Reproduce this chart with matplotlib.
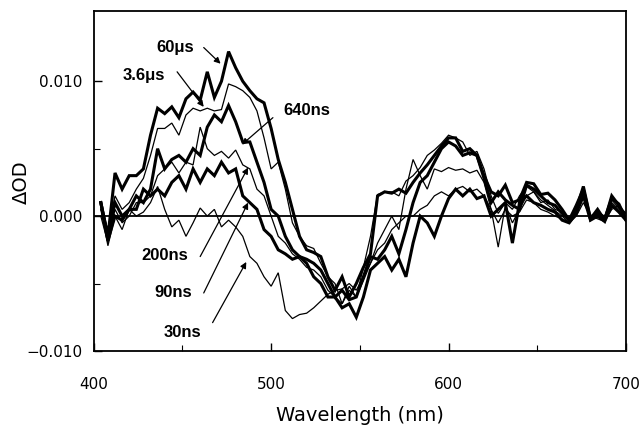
import numpy as np
import matplotlib
matplotlib.use("Agg")
import matplotlib.pyplot as plt

# wavelengths (nm)
wavelength = list(range(404, 701, 4))

# Delta OD values (x 1e-3)
od_60us = [1.0, -1.5, 3.2, 2.0, 3.0, 3.0, 3.5, 6.0, 8.0, 7.6, 8.1, 7.3, 8.7, 9.2, 8.6,
           10.7, 8.8, 10.0, 12.2, 11.0, 10.0, 9.3, 8.7, 8.4, 6.5, 4.2, 2.5, 0.5, -1.5, -2.5,
           -2.7, -3.0, -4.5, -5.5, -4.5, -6.0, -5.0, -3.8, -2.8, 1.5, 1.8, 1.7, 2.0, 1.7, 2.5,
           3.2, 3.8, 4.5, 5.2, 5.8, 5.8, 4.8, 5.0, 4.5, 3.0, 1.8, 1.5, 2.3, 1.0, 1.2,
           2.5, 2.4, 1.6, 1.7, 1.2, 0.5, -0.3, 0.8, 2.0, -0.2, 0.5, -0.3, 1.5, 0.8, -0.3]
od_3_6us = [0.5, -1.0, 1.5, 0.5, 1.0, 2.0, 2.8, 4.5, 6.5, 6.5, 6.9, 6.0, 7.5, 8.0, 7.8,
            8.0, 7.8, 7.9, 9.8, 9.6, 9.3, 8.8, 7.8, 5.8, 3.5, 4.0, 2.0, -0.5, -1.5, -2.2,
            -2.4, -3.5, -4.5, -5.0, -6.5, -5.2, -6.0, -3.8, -1.5, 1.6, 1.8, 1.8, 1.5, 2.6, 3.0,
            3.6, 4.5, 4.9, 5.4, 6.0, 5.8, 5.5, 4.5, 4.8, 3.5, 1.5, 0.2, 1.0, 0.5, 1.5,
            2.2, 1.8, 1.0, 1.2, 0.5, 0.3, -0.2, 0.5, 1.8, 0.0, 0.3, 0.0, 1.2, 0.6, 0.2]
od_640ns = [1.0, -1.5, 1.0, 0.0, 0.5, 1.5, 1.0, 2.0, 5.0, 3.5, 4.2, 4.5, 4.0, 5.0, 4.5,
            6.6, 7.5, 7.0, 8.2, 7.0, 5.5, 5.5, 4.0, 2.5, 0.5, 0.0, -1.5, -2.5, -3.0, -3.2,
            -3.5, -4.0, -5.0, -6.0, -5.5, -6.2, -6.0, -4.5, -3.0, -3.2, -2.5, -1.5, -2.8, -1.0, 1.0,
            2.5, 3.0, 4.0, 5.0, 5.5, 5.2, 4.5, 4.7, 4.5, 2.8, 1.0, 1.8, 1.2, 0.8, 0.5,
            2.3, 2.0, 1.5, 1.0, 0.8, 0.2, -0.3, 0.5, 2.2, -0.2, 0.2, -0.2, 1.3, 0.9, -0.2]
od_200ns = [0.0, -2.0, 0.5, -0.5, 0.0, 1.0, 1.0, 1.5, 3.0, 3.5, 4.0, 3.2, 4.0, 3.8, 6.6,
            5.0, 4.5, 4.8, 4.3, 4.9, 3.8, 3.5, 2.0, 1.5, 0.0, -1.5, -2.0, -2.8, -3.2, -3.8,
            -4.0, -4.5, -5.5, -6.0, -6.5, -5.5, -6.0, -4.8, -3.5, -2.0, -1.0, 0.0, -1.0, 2.0, 4.2,
            3.0, 2.0, 3.5, 3.3, 3.6, 3.4, 3.5, 3.2, 3.4, 2.5, 0.5, -2.3, 0.8, -0.5, 0.5,
            1.5, 1.8, 1.2, 0.8, 0.4, 0.0, -0.5, 0.3, 1.5, 0.0, 0.3, -0.3, 1.0, 0.5, 0.0]
od_90ns = [1.0, -1.8, 0.0, -0.3, 0.5, 0.5, 2.0, 1.5, 2.0, 1.5, 2.5, 3.0, 2.0, 3.5, 2.5,
           3.5, 3.0, 4.0, 3.2, 3.5, 1.5, 1.0, 0.5, -1.0, -1.5, -2.5, -2.8, -3.2, -3.0, -3.5,
           -4.5, -5.0, -6.0, -6.0, -6.8, -6.5, -7.5, -6.0, -4.0, -3.5, -3.0, -4.0, -3.2, -4.5, -2.0,
           0.0, -0.5, -1.5, 0.0, 1.3, 2.0, 1.5, 2.0, 1.3, 1.5, 0.0, 0.5, 1.0, -2.0, 1.0,
           1.5, 1.0, 0.8, 0.5, 0.3, -0.3, -0.5, 0.2, 1.5, -0.3, 0.0, -0.4, 0.8, 0.3, -0.3]
od_30ns = [0.5, -2.2, 0.0, -1.0, 0.5, 0.0, 0.3, 1.0, 2.2, 0.5, -0.8, -0.3, -1.5, -0.5, 0.6,
           0.0, 0.5, -0.8, -0.3, -0.8, -1.5, -3.0, -3.5, -4.5, -5.2, -4.2, -7.0, -7.6, -7.3, -7.2,
           -6.8, -6.3, -5.8, -5.5, -5.4, -5.0, -5.5, -4.5, -3.5, -2.5, -2.0, -1.0, -0.5, 0.0, 0.0,
           0.5, 0.8, 1.5, 1.8, 1.5, 2.0, 2.2, 1.8, 2.0, 1.5, 0.5, -0.5, 0.5, 0.0, 0.3,
           1.2, 1.0, 0.5, 0.3, 0.0, -0.2, -0.5, 0.0, 1.0, 0.0, -0.2, -0.4, 0.5, 0.8, 0.2]

series = [od_60us, od_3_6us, od_640ns, od_200ns, od_90ns, od_30ns]
widths = [2.2, 0.9, 2.2, 0.9, 2.2, 0.9]

labels = ["60\u03bcs", "3.6\u03bcs", "640ns", "200ns", "90ns", "30ns"]
label_xy = [(446, 0.0125), (428, 0.0104), (520, 0.0078), (440, -0.0029), (445, -0.0057), (450, -0.0086)]
arrow_tail = [(462, 0.0125), (447, 0.0107), (501, 0.0073), (460, -0.0030), (462, -0.0057), (467, -0.0079)]
arrow_tip = [(471.5, 0.0113), (462, 0.0081), (483.5, 0.0053), (487, 0.0036), (487, 0.0010), (486, -0.0034)]

fig = plt.figure(figsize=(6.42, 4.28), dpi=100)
ax = fig.add_axes([0.146, 0.180, 0.829, 0.794])

for vals, lw in zip(series, widths):
    ax.plot(wavelength, np.array(vals) * 1e-3, color="black", lw=lw, solid_joinstyle="miter")

ax.axhline(0, color="black", lw=1.3)

for lab, (tx, ty), (ax0, ay0), (ax1, ay1) in zip(labels, label_xy, arrow_tail, arrow_tip):
    ax.text(tx, ty, lab, fontsize=12, fontweight="bold", family="Liberation Sans",
            ha="center", va="center")
    ax.annotate("", xy=(ax1, ay1), xytext=(ax0, ay0),
                arrowprops=dict(arrowstyle="-|>", color="black", lw=0.9,
                                mutation_scale=9, shrinkA=0, shrinkB=0))

ax.set_xlim(400, 700)
ax.set_ylim(-0.010, 0.0152)
ax.set_xticks([400, 500, 600, 700])
ax.set_xticks([450, 550, 650], minor=True)
ax.set_yticks([-0.010, 0.000, 0.010])
ax.set_yticks([-0.005, 0.005], minor=True)
ax.set_yticklabels(["\u22120.010", "0.000", "0.010"])
ax.tick_params(which="major", direction="in", length=6, width=1.0, labelsize=11, pad=8)
ax.tick_params(axis="x", which="major", pad=19)
ax.tick_params(which="minor", direction="in", length=4, width=0.8)
for s in ax.spines.values():
    s.set_linewidth(1.3)

fig.text(0.56, 0.030, "Wavelength (nm)", fontsize=14, ha="center", va="center")
fig.text(0.034, 0.575, "\u0394OD", fontsize=14, rotation=90, ha="center", va="center")

fig.savefig("out.png", dpi=100)
